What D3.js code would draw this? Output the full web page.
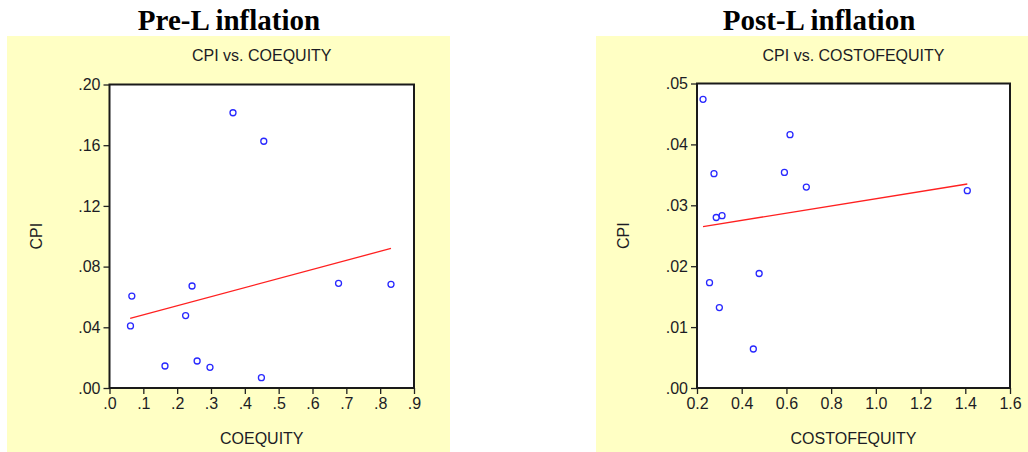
<!DOCTYPE html>
<html>
<head>
<meta charset="utf-8">
<script src="https://cdn.jsdelivr.net/npm/d3@7"></script>
<style>
  body { margin: 0; background: #fff; }
  svg { display: block; }
  .tick text { font-family: "Liberation Sans", Arial, sans-serif; font-size: 16px; fill: #1c1c24; }
  .tick line { stroke: #222; stroke-width: 1.3; }
</style>
</head>
<body>
<svg id="chart" width="1028" height="452"></svg>
<script>
// Pre-L: CPI vs COEQUITY
const preX = [0.066, 0.062, 0.244, 0.225, 0.164, 0.259, 0.297, 0.449, 0.677, 0.832, 0.365, 0.456];
const preY = [0.0606, 0.0409, 0.0672, 0.0477, 0.0145, 0.0178, 0.0136, 0.0068, 0.069, 0.0683, 0.1814, 0.1626];
const preFitX = [0.061, 0.832];
const preFitY = [0.0459, 0.0920];
const preXTicks = [0, 0.1, 0.2, 0.3, 0.4, 0.5, 0.6, 0.7, 0.8, 0.9];
const preYTicks = [0, 0.04, 0.08, 0.12, 0.16, 0.20];

// Post-L: CPI vs COSTOFEQUITY
const postX = [0.227, 0.616, 0.276, 0.591, 0.689, 0.286, 0.312, 1.409, 0.256, 0.478, 0.300, 0.452];
const postY = [0.0474, 0.0416, 0.0352, 0.0354, 0.0330, 0.0280, 0.0283, 0.0324, 0.0173, 0.0188, 0.0132, 0.0064];
const postFitX = [0.227, 1.409];
const postFitY = [0.0265, 0.0335];
const postXTicks = [0.2, 0.4, 0.6, 0.8, 1.0, 1.2, 1.4, 1.6];
const postYTicks = [0, 0.01, 0.02, 0.03, 0.04, 0.05];

const svg = d3.select("#chart");
const sans = "'Liberation Sans', Arial, sans-serif";
const noLead = f => v => f(v).replace(/^0\./, ".");

const panels = [
  {
    heading: "Pre-L inflation", headX: 229,
    bg: [7, 450], title: "CPI vs. COEQUITY", xLabel: "COEQUITY",
    xs: preX, ys: preY, fitX: preFitX, fitY: preFitY,
    xTicks: preXTicks, yTicks: preYTicks,
    xDomain: [0, 0.9], yDomain: [0, 0.2],
    left: 109.5, right: 414, top: 84.5, bottom: 388,
    xFmt: noLead(d3.format(".1f")), yFmt: noLead(d3.format(".2f")), yLabelX: 42
  },
  {
    heading: "Post-L inflation", headX: 819,
    bg: [596, 1028], title: "CPI vs. COSTOFEQUITY", xLabel: "COSTOFEQUITY",
    xs: postX, ys: postY, fitX: postFitX, fitY: postFitY,
    xTicks: postXTicks, yTicks: postYTicks,
    xDomain: [0.2, 1.6], yDomain: [0, 0.05],
    left: 697, right: 1010, top: 83.5, bottom: 388,
    xFmt: d3.format(".1f"), yFmt: noLead(d3.format(".2f")), yLabelX: 629
  }
];

panels.forEach(p => {
  svg.append("text")
    .attr("x", p.headX).attr("y", 30)
    .attr("text-anchor", "middle")
    .style("font-family", "'Liberation Serif', 'Times New Roman', serif")
    .style("font-weight", "bold").style("font-size", "29px")
    .text(p.heading);

  svg.append("rect")
    .attr("x", p.bg[0]).attr("y", 36)
    .attr("width", p.bg[1] - p.bg[0]).attr("height", 416)
    .attr("fill", "#ffffc4");

  const x = d3.scaleLinear().domain(p.xDomain).range([p.left, p.right]);
  const y = d3.scaleLinear().domain(p.yDomain).range([p.bottom, p.top]);
  const cx = (p.left + p.right) / 2;

  svg.append("rect")
    .attr("x", p.left).attr("y", p.top)
    .attr("width", p.right - p.left).attr("height", p.bottom - p.top)
    .attr("fill", "#fff");

  svg.append("text")
    .attr("x", cx).attr("y", 61)
    .attr("text-anchor", "middle")
    .style("font-family", sans).style("font-size", "16px")
    .attr("fill", "#1c1c24")
    .text(p.title);

  svg.append("g")
    .attr("transform", `translate(0,${p.bottom})`)
    .call(d3.axisBottom(x).tickValues(p.xTicks).tickFormat(p.xFmt).tickSize(6).tickPadding(4))
    .call(g => g.select(".domain").remove());

  svg.append("g")
    .attr("transform", `translate(${p.left},0)`)
    .call(d3.axisLeft(y).tickValues(p.yTicks).tickFormat(p.yFmt).tickSize(6).tickPadding(3))
    .call(g => g.select(".domain").remove());

  svg.append("text")
    .attr("x", cx).attr("y", 444)
    .attr("text-anchor", "middle")
    .style("font-family", sans).style("font-size", "16px")
    .attr("fill", "#1c1c24")
    .text(p.xLabel);

  svg.append("text")
    .attr("transform", `translate(${p.yLabelX},${(p.top + p.bottom) / 2}) rotate(-90)`)
    .attr("text-anchor", "middle")
    .style("font-family", sans).style("font-size", "16px")
    .attr("fill", "#1c1c24")
    .text("CPI");

  const fit = p.fitX.map((v, i) => [v, p.fitY[i]]);
  svg.append("path")
    .datum(fit)
    .attr("d", d3.line().x(d => x(d[0])).y(d => y(d[1])))
    .attr("fill", "none").attr("stroke", "#ff2020").attr("stroke-width", 1.3);

  svg.append("g")
    .selectAll("circle")
    .data(p.xs.map((v, i) => [v, p.ys[i]]))
    .join("circle")
    .attr("cx", d => x(d[0]))
    .attr("cy", d => y(d[1]))
    .attr("r", 3)
    .attr("fill", "none")
    .attr("stroke", "#2828ff")
    .attr("stroke-width", 1.3);

  svg.append("rect")
    .attr("x", p.left).attr("y", p.top)
    .attr("width", p.right - p.left).attr("height", p.bottom - p.top)
    .attr("fill", "none").attr("stroke", "#1a1a1a").attr("stroke-width", 2);
});
</script>
</body>
</html>
